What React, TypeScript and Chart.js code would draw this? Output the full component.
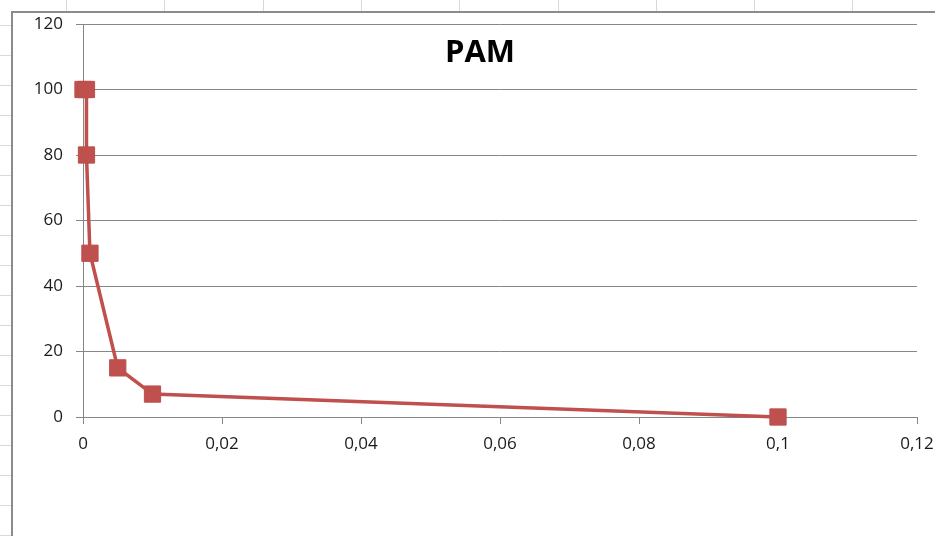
import { useEffect, useRef } from 'react';
import { Chart, registerables } from 'chart.js';

Chart.register(...registerables);

// Dilution series: concentration vs. response
const concentrations = [0, 0.0005, 0.0005, 0.001, 0.005, 0.01, 0.1];
const responses = [100, 100, 80, 50, 15, 7, 0];

const xTickLabels = ['0', '0,02', '0,04', '0,06', '0,08', '0,1', '0,12'];
const yTickLabels = ['0', '20', '40', '60', '80', '100', '120'];
const chartTitle = 'PAM';

const SERIES_RED = '#C0504D';
const AXIS_GRAY = '#868686';
const FONT = '"Open Sans", "Liberation Sans", sans-serif';

// Worksheet cells behind the chart object, plus the chart's frame
const sheetBackground = {
  id: 'sheetBackground',
  beforeDraw(chart: Chart) {
    const { ctx, width, height } = chart;
    ctx.save();
    ctx.fillStyle = '#ffffff';
    ctx.fillRect(0, 0, width, height);
    ctx.strokeStyle = '#d9d9d9';
    ctx.lineWidth = 1;
    ctx.beginPath();
    for (let x = 66; x < width; x += 98.3) {
      const px = Math.round(x) + 0.5;
      ctx.moveTo(px, 0);
      ctx.lineTo(px, 11);
    }
    for (let y = 25; y < height; y += 30) {
      const py = Math.round(y) + 0.5;
      ctx.moveTo(0, py);
      ctx.lineTo(11, py);
    }
    ctx.stroke();
    ctx.strokeStyle = '#8c8c8c';
    ctx.lineWidth = 2;
    ctx.beginPath();
    ctx.moveTo(12, height + 2);
    ctx.lineTo(12, 12);
    ctx.lineTo(width + 2, 12);
    ctx.stroke();
    ctx.restore();
  },
};

// Title sits inside the plot area, so it is painted rather than laid out
const overlayTitle = {
  id: 'overlayTitle',
  afterDraw(chart: Chart) {
    const { ctx } = chart;
    ctx.save();
    ctx.fillStyle = '#000000';
    ctx.font = `bold 31px ${FONT}`;
    ctx.textAlign = 'center';
    ctx.textBaseline = 'alphabetic';
    ctx.fillText(chartTitle, 480, 62);
    ctx.restore();
  },
};

export default function App() {
  const canvasRef = useRef<HTMLCanvasElement | null>(null);

  useEffect(() => {
    const canvas = canvasRef.current;
    if (!canvas) return;
    const points = concentrations.map((x, i) => ({ x, y: responses[i] }));
    const chart = new Chart(canvas, {
      type: 'scatter',
      data: {
        datasets: [
          {
            data: points,
            showLine: true,
            clip: false,
            borderColor: SERIES_RED,
            backgroundColor: SERIES_RED,
            borderWidth: 3.5,
            pointStyle: 'rect',
            pointRadius: 11.5,
            pointHoverRadius: 11.5,
            pointBorderWidth: 1,
            pointBorderColor: '#B9504C',
            pointBackgroundColor: SERIES_RED,
            tension: 0,
          },
        ],
      },
      plugins: [sheetBackground, overlayTitle],
      options: {
        responsive: false,
        animation: false,
        devicePixelRatio: 1,
        layout: { padding: { left: 0, right: 18, top: 24, bottom: 0 } },
        plugins: {
          legend: { display: false },
          title: { display: false },
          tooltip: { enabled: false },
        },
        scales: {
          x: {
            type: 'linear',
            min: 0,
            max: 0.12,
            afterFit: (scale: any) => {
              scale.height = 119;
              scale.paddingLeft = 0;
              scale.paddingRight = 0;
            },
            ticks: {
              stepSize: 0.02,
              color: '#1a1a1a',
              font: { family: FONT, size: 17 },
              padding: 10,
              maxRotation: 0,
              callback: (_v: any, i: number) => xTickLabels[i],
            },
            grid: {
              drawOnChartArea: false,
              drawTicks: true,
              tickLength: 7,
              color: AXIS_GRAY,
            },
            border: { color: AXIS_GRAY, width: 1 },
          },
          y: {
            type: 'linear',
            min: 0,
            max: 120,
            afterFit: (scale: any) => {
              scale.width = 83;
            },
            ticks: {
              stepSize: 20,
              color: '#1a1a1a',
              font: { family: FONT, size: 17 },
              padding: 13,
              callback: (_v: any, i: number) => yTickLabels[i],
            },
            grid: {
              color: AXIS_GRAY,
              tickLength: 7,
              lineWidth: 1,
            },
            border: { color: AXIS_GRAY, width: 1 },
          },
        },
      },
    });
    return () => chart.destroy();
  }, []);

  return (
    <div style={{ position: 'absolute', left: 0, top: 0, width: 935, height: 536 }}>
      <canvas ref={canvasRef} width={935} height={536} />
    </div>
  );
}
